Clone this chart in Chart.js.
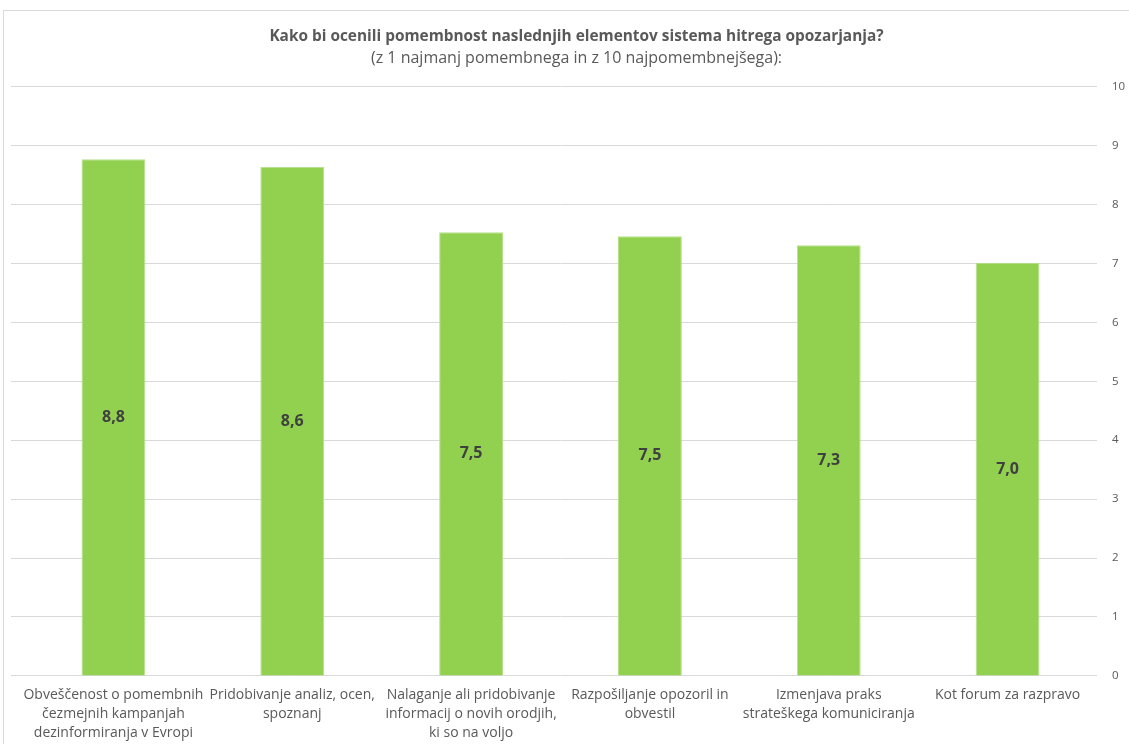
<!DOCTYPE html>
<html>
<head>
<meta charset="utf-8">
<script src="https://cdn.jsdelivr.net/npm/chart.js@4/dist/chart.umd.min.js"></script>
<style>
  html, body { margin: 0; padding: 0; background: #fff; }
  #wrap { position: absolute; left: 3px; top: 10px; width: 1140px; height: 740px; border: 1px solid #d9d9d9; box-sizing: border-box; }
  #box { position: absolute; left: 0; top: 0; width: 1129px; height: 744px; }
</style>
</head>
<body>
<div id="wrap"></div>
<div id="box"><canvas id="chart" width="1129" height="744"></canvas></div>
<script>
// chart data
var categories = [
    ['Obveščenost o pomembnih', 'čezmejnih kampanjah', 'dezinformiranja v Evropi'],
    ['Pridobivanje analiz, ocen,', 'spoznanj'],
    ['Nalaganje ali pridobivanje', 'informacij o novih orodjih,', 'ki so na voljo'],
    ['Razpošiljanje opozoril in', 'obvestil'],
    ['Izmenjava praks', 'strateškega komuniciranja'],
    ['Kot forum za razpravo']
];
var scores = [8.77, 8.64, 7.53, 7.46, 7.31, 7.01];
var scoreLabels = ['8,8', '8,6', '7,5', '7,5', '7,3', '7,0'];
var titleText = 'Kako bi ocenili pomembnost naslednjih elementov sistema hitrega opozarjanja?';
var subtitleText = '(z 1 najmanj pomembnega in z 10 najpomembnejšega):';

var FONT = 'Open Sans';
var GRID_LEFT = 11;

// draw the value in the middle of each bar
var barValues = {
    id: 'barValues',
    afterDatasetsDraw: function (chart) {
        var ctx = chart.ctx;
        var meta = chart.getDatasetMeta(0);
        ctx.save();
        ctx.font = 'bold 16px ' + FONT;
        ctx.fillStyle = '#404040';
        ctx.textAlign = 'center';
        ctx.textBaseline = 'middle';
        meta.data.forEach(function (bar, i) {
            var mid = (bar.y + bar.base) / 2;
            ctx.fillText(scoreLabels[i], bar.x, mid);
        });
        ctx.restore();
    }
};

// excel lets the gridlines run a little past the first category
var gridStretch = {
    id: 'gridStretch',
    beforeDatasetsDraw: function (chart) {
        var ctx = chart.ctx;
        var y = chart.scales.y;
        ctx.save();
        ctx.strokeStyle = '#d9d9d9';
        ctx.lineWidth = 1;
        y.ticks.forEach(function (t) {
            var py = Math.round(y.getPixelForValue(t.value) - 0.5) + 0.5;
            ctx.beginPath();
            ctx.moveTo(GRID_LEFT, py);
            ctx.lineTo(chart.chartArea.left, py);
            ctx.stroke();
        });
        ctx.restore();
    }
};

var ctx = document.getElementById('chart').getContext('2d');
var chart = new Chart(ctx, {
    type: 'bar',
    data: {
        labels: categories,
        datasets: [{
            data: scores,
            backgroundColor: '#92d050',
            borderColor: '#b7e08a',
            borderWidth: 1,
            barPercentage: 0.357,
            categoryPercentage: 1.0
        }]
    },
    plugins: [barValues, gridStretch],
    options: {
        responsive: false,
        animation: false,
        layout: { padding: { left: 24, right: 0, top: 27, bottom: -1 } },
        plugins: {
            legend: { display: false },
            tooltip: { enabled: false },
            title: {
                display: true,
                text: titleText,
                color: '#595959',
                font: { family: FONT, size: 15.4, weight: 'bold' },
                padding: { top: 0, bottom: 3 }
            },
            subtitle: {
                display: true,
                text: subtitleText,
                color: '#595959',
                font: { family: FONT, size: 16 },
                padding: { top: 0, bottom: 19 }
            }
        },
        scales: {
            x: {
                grid: { display: false },
                border: { display: false },
                ticks: {
                    color: '#595959',
                    font: { family: FONT, size: 14, lineHeight: 1.36 },
                    maxRotation: 0,
                    autoSkip: false,
                    padding: 2
                }
            },
            y: {
                position: 'right',
                min: 0,
                max: 10,
                grid: { color: '#d9d9d9', drawTicks: false },
                border: { display: false },
                afterFit: function (scale) { scale.width = 32; },
                ticks: {
                    stepSize: 1,
                    color: '#595959',
                    font: { family: FONT, size: 11.5 },
                    padding: 15
                }
            }
        }
    }
});
</script>
</body>
</html>
